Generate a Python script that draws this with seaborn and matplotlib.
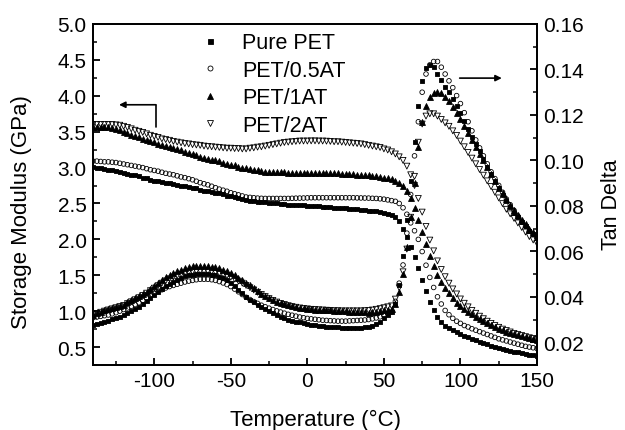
import numpy as np
import pandas as pd
import matplotlib
matplotlib.use("Agg")
import matplotlib.pyplot as plt
import seaborn as sns
from matplotlib.lines import Line2D
from matplotlib.ticker import MultipleLocator, FormatStrFormatter

# Measurement temperatures (°C), one reading every 2.5 °C
temperature = np.arange(-140, 150.01, 2.5)

samples = ["Pure PET", "PET/0.5AT", "PET/1AT", "PET/2AT"]

# Storage modulus E' (GPa)
storage_pure = [
    3.01, 3.00, 2.99, 2.98, 2.97, 2.96, 2.95, 2.94, 2.93, 2.91,
    2.90, 2.89, 2.88, 2.86, 2.85, 2.83, 2.82, 2.81, 2.80, 2.79,
    2.78, 2.77, 2.76, 2.75, 2.74, 2.73, 2.72, 2.71, 2.69, 2.68,
    2.67, 2.66, 2.65, 2.64, 2.63, 2.61, 2.60, 2.59, 2.58, 2.56,
    2.55, 2.54, 2.53, 2.525, 2.52, 2.515, 2.51, 2.505, 2.50, 2.495,
    2.49, 2.485, 2.48, 2.478, 2.475, 2.472, 2.47, 2.466, 2.462, 2.458,
    2.455, 2.451, 2.447, 2.443, 2.44, 2.436, 2.432, 2.428, 2.425, 2.421,
    2.414, 2.408, 2.40, 2.395, 2.39, 2.385, 2.37, 2.36, 2.34, 2.31,
    2.25, 2.15, 2.03, 1.89, 1.76, 1.60, 1.43, 1.28, 1.13, 1.01,
    0.92, 0.85, 0.80, 0.77, 0.74, 0.71, 0.685, 0.66, 0.64, 0.615,
    0.595, 0.575, 0.555, 0.54, 0.52, 0.505, 0.49, 0.475, 0.46, 0.45,
    0.435, 0.425, 0.415, 0.405, 0.395, 0.385, 0.375,
]
storage_05 = [
    3.09, 3.09, 3.085, 3.08, 3.08, 3.075, 3.07, 3.06, 3.05, 3.04,
    3.03, 3.02, 3.01, 3.00, 2.985, 2.97, 2.96, 2.95, 2.935, 2.92,
    2.91, 2.90, 2.885, 2.87, 2.86, 2.845, 2.83, 2.81, 2.79, 2.775,
    2.76, 2.74, 2.72, 2.70, 2.685, 2.67, 2.65, 2.635, 2.62, 2.605,
    2.59, 2.585, 2.58, 2.575, 2.572, 2.57, 2.57, 2.57, 2.57, 2.57,
    2.57, 2.57, 2.572, 2.574, 2.575, 2.576, 2.578, 2.58, 2.58, 2.58,
    2.58, 2.58, 2.58, 2.58, 2.58, 2.58, 2.58, 2.58, 2.58, 2.578,
    2.577, 2.576, 2.575, 2.572, 2.57, 2.565, 2.56, 2.55, 2.54, 2.53,
    2.50, 2.44, 2.35, 2.23, 2.12, 2.00, 1.83, 1.64, 1.47, 1.33,
    1.20, 1.10, 1.01, 0.95, 0.90, 0.86, 0.83, 0.80, 0.78, 0.755,
    0.735, 0.715, 0.695, 0.675, 0.655, 0.635, 0.615, 0.60, 0.585, 0.57,
    0.555, 0.54, 0.525, 0.51, 0.50, 0.49, 0.48,
]
storage_1 = [
    3.57, 3.57, 3.57, 3.565, 3.56, 3.55, 3.54, 3.52, 3.50, 3.48,
    3.46, 3.44, 3.42, 3.40, 3.385, 3.37, 3.35, 3.33, 3.31, 3.30,
    3.29, 3.27, 3.255, 3.24, 3.22, 3.21, 3.19, 3.17, 3.15, 3.14,
    3.125, 3.11, 3.10, 3.085, 3.07, 3.055, 3.04, 3.03, 3.015, 3.00,
    2.99, 2.98, 2.97, 2.96, 2.95, 2.945, 2.94, 2.937, 2.935, 2.933,
    2.932, 2.931, 2.93, 2.93, 2.93, 2.93, 2.93, 2.929, 2.928, 2.926,
    2.925, 2.924, 2.923, 2.922, 2.92, 2.917, 2.914, 2.91, 2.905, 2.90,
    2.897, 2.893, 2.89, 2.885, 2.88, 2.87, 2.86, 2.85, 2.84, 2.82,
    2.79, 2.75, 2.68, 2.57, 2.43, 2.27, 2.10, 1.93, 1.77, 1.63,
    1.51, 1.41, 1.32, 1.25, 1.18, 1.12, 1.07, 1.03, 0.99, 0.955,
    0.92, 0.89, 0.86, 0.83, 0.805, 0.78, 0.755, 0.735, 0.715, 0.695,
    0.68, 0.665, 0.65, 0.635, 0.62, 0.61, 0.60,
]
storage_2 = [
    3.60, 3.60, 3.60, 3.60, 3.60, 3.60, 3.595, 3.59, 3.575, 3.56,
    3.54, 3.52, 3.505, 3.49, 3.47, 3.45, 3.435, 3.42, 3.40, 3.39,
    3.38, 3.365, 3.355, 3.345, 3.335, 3.33, 3.32, 3.315, 3.31, 3.30,
    3.295, 3.29, 3.285, 3.28, 3.275, 3.27, 3.27, 3.265, 3.265, 3.26,
    3.26, 3.27, 3.275, 3.285, 3.29, 3.30, 3.31, 3.32, 3.33, 3.34,
    3.35, 3.355, 3.36, 3.365, 3.37, 3.37, 3.37, 3.372, 3.372, 3.37,
    3.37, 3.368, 3.365, 3.36, 3.36, 3.355, 3.35, 3.345, 3.34, 3.335,
    3.33, 3.32, 3.31, 3.30, 3.29, 3.28, 3.26, 3.245, 3.22, 3.19,
    3.15, 3.10, 3.02, 2.90, 2.75, 2.57, 2.38, 2.18, 1.99, 1.84,
    1.70, 1.58, 1.48, 1.39, 1.31, 1.24, 1.17, 1.11, 1.06, 1.01,
    0.97, 0.93, 0.895, 0.86, 0.83, 0.80, 0.775, 0.75, 0.73, 0.71,
    0.69, 0.675, 0.66, 0.645, 0.63, 0.62, 0.61,
]

# Loss factor tan δ
tan_pure = [
    0.0274, 0.0279, 0.0284, 0.0289, 0.0295, 0.0301, 0.0307, 0.0313, 0.032, 0.0328,
    0.0337, 0.0346, 0.0355, 0.0368, 0.0381, 0.0395, 0.041, 0.0422, 0.0434, 0.0446,
    0.0458, 0.0467, 0.0475, 0.0483, 0.049, 0.0494, 0.0497, 0.0499, 0.050, 0.050,
    0.0499, 0.0498, 0.0495, 0.0489, 0.0482, 0.0472, 0.046, 0.0447, 0.0432, 0.0416,
    0.040, 0.0388, 0.0377, 0.0366, 0.0355, 0.0346, 0.0338, 0.0329, 0.032, 0.0313,
    0.0306, 0.030, 0.0295, 0.0291, 0.0287, 0.0283, 0.028, 0.0277, 0.0274, 0.0272,
    0.027, 0.0268, 0.0267, 0.0266, 0.0265, 0.0264, 0.0263, 0.0262, 0.0262, 0.0262,
    0.0263, 0.0265, 0.0268, 0.0273, 0.028, 0.029, 0.0305, 0.032, 0.0335, 0.037,
    0.045, 0.058, 0.074, 0.091, 0.108, 0.124, 0.135, 0.1405, 0.142, 0.141,
    0.138, 0.1355, 0.1325, 0.13, 0.127, 0.124, 0.121, 0.1175, 0.114, 0.1105,
    0.107, 0.104, 0.1005, 0.097, 0.094, 0.091, 0.088, 0.085, 0.082, 0.0795,
    0.077, 0.075, 0.073, 0.071, 0.069, 0.0675, 0.066,
]
tan_05 = [
    0.0308, 0.0311, 0.0314, 0.0317, 0.032, 0.0325, 0.033, 0.0337, 0.0344, 0.0351,
    0.0358, 0.0366, 0.0374, 0.0384, 0.0394, 0.0405, 0.0415, 0.0423, 0.0431, 0.0439,
    0.0445, 0.045, 0.0455, 0.046, 0.0465, 0.0469, 0.0472, 0.0475, 0.0477, 0.0477,
    0.0477, 0.0475, 0.0472, 0.0467, 0.0461, 0.0454, 0.0445, 0.0434, 0.0422, 0.041,
    0.0398, 0.0388, 0.0379, 0.0371, 0.0363, 0.0356, 0.035, 0.0344, 0.0338, 0.0333,
    0.0328, 0.0323, 0.0319, 0.0315, 0.0311, 0.0308, 0.0305, 0.0303, 0.0301, 0.0299,
    0.0297, 0.0296, 0.0295, 0.0294, 0.0293, 0.0293, 0.0293, 0.0294, 0.0295, 0.0296,
    0.0297, 0.0298, 0.030, 0.0303, 0.0307, 0.0312, 0.0318, 0.0325, 0.0333, 0.038,
    0.046, 0.054, 0.068, 0.085, 0.102, 0.117, 0.130, 0.138, 0.142, 0.1435,
    0.1435, 0.141, 0.138, 0.135, 0.132, 0.1285, 0.125, 0.121, 0.117, 0.113,
    0.109, 0.1055, 0.102, 0.0985, 0.095, 0.092, 0.089, 0.086, 0.083, 0.0805,
    0.078, 0.0755, 0.073, 0.071, 0.069, 0.0675, 0.066,
]
tan_1 = [
    0.0322, 0.0328, 0.0334, 0.034, 0.0346, 0.0351, 0.0356, 0.0361, 0.0366, 0.0375,
    0.0384, 0.0393, 0.0403, 0.0413, 0.0423, 0.0435, 0.0447, 0.046, 0.0473, 0.0487,
    0.0497, 0.0505, 0.0513, 0.052, 0.0526, 0.0531, 0.0534, 0.0535, 0.0536, 0.0536,
    0.0535, 0.0533, 0.053, 0.0525, 0.052, 0.0512, 0.0503, 0.0494, 0.0484, 0.0473,
    0.0462, 0.045, 0.0437, 0.0425, 0.0413, 0.0403, 0.0394, 0.0386, 0.0379, 0.0372,
    0.0367, 0.0362, 0.0358, 0.0355, 0.0352, 0.035, 0.0348, 0.0346, 0.0344, 0.0343,
    0.0342, 0.0341, 0.034, 0.0339, 0.0338, 0.0337, 0.0336, 0.0335, 0.0334, 0.0333,
    0.0332, 0.0331, 0.033, 0.0331, 0.0333, 0.0336, 0.034, 0.0344, 0.0348, 0.037,
    0.042, 0.050, 0.062, 0.075, 0.090, 0.106, 0.117, 0.124, 0.128, 0.1295,
    0.130, 0.1295, 0.128, 0.126, 0.1235, 0.121, 0.118, 0.115, 0.112, 0.109,
    0.106, 0.103, 0.100, 0.097, 0.094, 0.091, 0.088, 0.0855, 0.083, 0.0805,
    0.078, 0.076, 0.074, 0.072, 0.070, 0.0685, 0.067,
]
tan_2 = [
    0.0322, 0.0327, 0.0332, 0.0337, 0.0342, 0.0347, 0.0352, 0.0357, 0.0362, 0.037,
    0.0378, 0.0387, 0.0396, 0.0406, 0.0416, 0.0427, 0.0438, 0.0449, 0.046, 0.047,
    0.0479, 0.0486, 0.0493, 0.0499, 0.0504, 0.0508, 0.0511, 0.0513, 0.0514, 0.0514,
    0.0513, 0.0511, 0.0508, 0.0504, 0.0499, 0.0493, 0.0486, 0.0478, 0.0469, 0.046,
    0.045, 0.044, 0.043, 0.042, 0.041, 0.0401, 0.0392, 0.0384, 0.0377, 0.0371,
    0.0366, 0.0361, 0.0357, 0.0354, 0.0351, 0.0349, 0.0347, 0.0345, 0.0344, 0.0343,
    0.0342, 0.0341, 0.034, 0.0339, 0.0339, 0.0338, 0.0338, 0.0338, 0.0338, 0.0338,
    0.0338, 0.0339, 0.034, 0.0342, 0.0345, 0.0348, 0.0352, 0.0356, 0.036, 0.039,
    0.044, 0.051, 0.061, 0.075, 0.093, 0.108, 0.116, 0.1195, 0.1205, 0.1205,
    0.1195, 0.118, 0.1165, 0.115, 0.113, 0.111, 0.1085, 0.106, 0.1035, 0.101,
    0.0985, 0.096, 0.0935, 0.091, 0.0885, 0.086, 0.0835, 0.081, 0.0785, 0.0765,
    0.0745, 0.0725, 0.0705, 0.0685, 0.0665, 0.065, 0.0635,
]

storage = [storage_pure, storage_05, storage_1, storage_2]
tan_delta = [tan_pure, tan_05, tan_1, tan_2]

sns.set_theme(style="white")
plt.rcParams["font.family"] = ["Liberation Sans", "DejaVu Sans"]
plt.rcParams["axes.unicode_minus"] = False

marker_styles = {
    "Pure PET": dict(marker="s", face="black", s=11, ms=3.6),
    "PET/0.5AT": dict(marker="o", face="none", s=11, ms=3.6),
    "PET/1AT": dict(marker="^", face="black", s=18, ms=4.6),
    "PET/2AT": dict(marker="v", face="none", s=18, ms=4.6),
}

frames_e = []
frames_t = []
for name, e, t in zip(samples, storage, tan_delta):
    frames_e.append(pd.DataFrame({"T": temperature, "E": e, "sample": name}))
    frames_t.append(pd.DataFrame({"T": temperature, "tan": t, "sample": name}))
df_e = pd.concat(frames_e, ignore_index=True)
df_t = pd.concat(frames_t, ignore_index=True)

fig = plt.figure(figsize=(6.25, 4.31), dpi=100)
fig.patch.set_facecolor("white")
ax = fig.add_axes([93 / 625, 1 - 366 / 431, 444 / 625, 341 / 431])
ax2 = ax.twinx()

for name in samples:
    st = marker_styles[name]
    sns.scatterplot(data=df_e[df_e["sample"] == name], x="T", y="E", ax=ax,
                    marker=st["marker"], s=st["s"], color="black",
                    facecolor=st["face"], edgecolor="black", linewidth=0.6,
                    legend=False, zorder=3)
    sns.scatterplot(data=df_t[df_t["sample"] == name], x="T", y="tan", ax=ax2,
                    marker=st["marker"], s=st["s"], color="black",
                    facecolor=st["face"], edgecolor="black", linewidth=0.6,
                    legend=False, zorder=3)

ax.set_xlim(-140, 150)
ax.set_ylim(0.25, 5.0)
ax2.set_ylim(0.01, 0.16)

ax.xaxis.set_major_locator(MultipleLocator(50))
ax.xaxis.set_minor_locator(MultipleLocator(25))
ax.yaxis.set_major_locator(MultipleLocator(0.5))
ax.yaxis.set_minor_locator(MultipleLocator(0.25))
ax2.yaxis.set_major_locator(MultipleLocator(0.02))
ax2.yaxis.set_minor_locator(MultipleLocator(0.01))
ax.yaxis.set_major_formatter(FormatStrFormatter("%.1f"))
ax2.yaxis.set_major_formatter(FormatStrFormatter("%.2f"))

for a in (ax, ax2):
    for side in a.spines.values():
        side.set_color("black")
        side.set_linewidth(1.3)
    a.tick_params(which="major", direction="in", length=5, width=1.3,
                  labelsize=15, colors="black", pad=4.5)
    a.tick_params(which="minor", direction="in", length=3, width=1.1,
                  colors="black")
ax.tick_params(axis="both", which="both", top=False, right=False,
               bottom=True, left=True)
ax2.tick_params(axis="y", which="both", left=False, right=True)

ax.set_xlabel("Temperature (°C)", fontsize=16, color="black")
ax.set_ylabel("Storage Modulus (GPa)", fontsize=16, color="black")
ax2.set_ylabel("Tan Delta", fontsize=15.5, color="black")
ax.xaxis.set_label_coords(0.5, -0.128)
ax.yaxis.set_label_coords(-0.137, 0.452)
ax2.yaxis.set_label_coords(1.145, 0.472)

# Arrows pointing each set of curves to its axis
ax.annotate("", xy=(-123, 3.875), xytext=(-99, 3.875),
            arrowprops=dict(arrowstyle="-|>", color="black", lw=1.2,
                            mutation_scale=9, shrinkA=0, shrinkB=0))
ax.plot([-99, -99], [3.875, 3.57], color="black", lw=1.2)
ax2.annotate("", xy=(127, 0.1362), xytext=(99.5, 0.1362),
             arrowprops=dict(arrowstyle="-|>", color="black", lw=1.2,
                             mutation_scale=9, shrinkA=0, shrinkB=0))

handles = []
for name in samples:
    st = marker_styles[name]
    handles.append(Line2D([], [], linestyle="none", marker=st["marker"],
                          markersize=st["ms"], markerfacecolor=st["face"],
                          markeredgecolor="black", markeredgewidth=0.6,
                          label=name))
leg = ax.legend(handles=handles, loc="upper left",
                bbox_to_anchor=(0.239, 0.976), frameon=False, fontsize=15.5,
                handlelength=1.0, handletextpad=1.0, labelspacing=0.3,
                borderpad=0, borderaxespad=0)
for txt in leg.get_texts():
    txt.set_color("black")

fig.savefig("out.png", dpi=100, facecolor="white")
